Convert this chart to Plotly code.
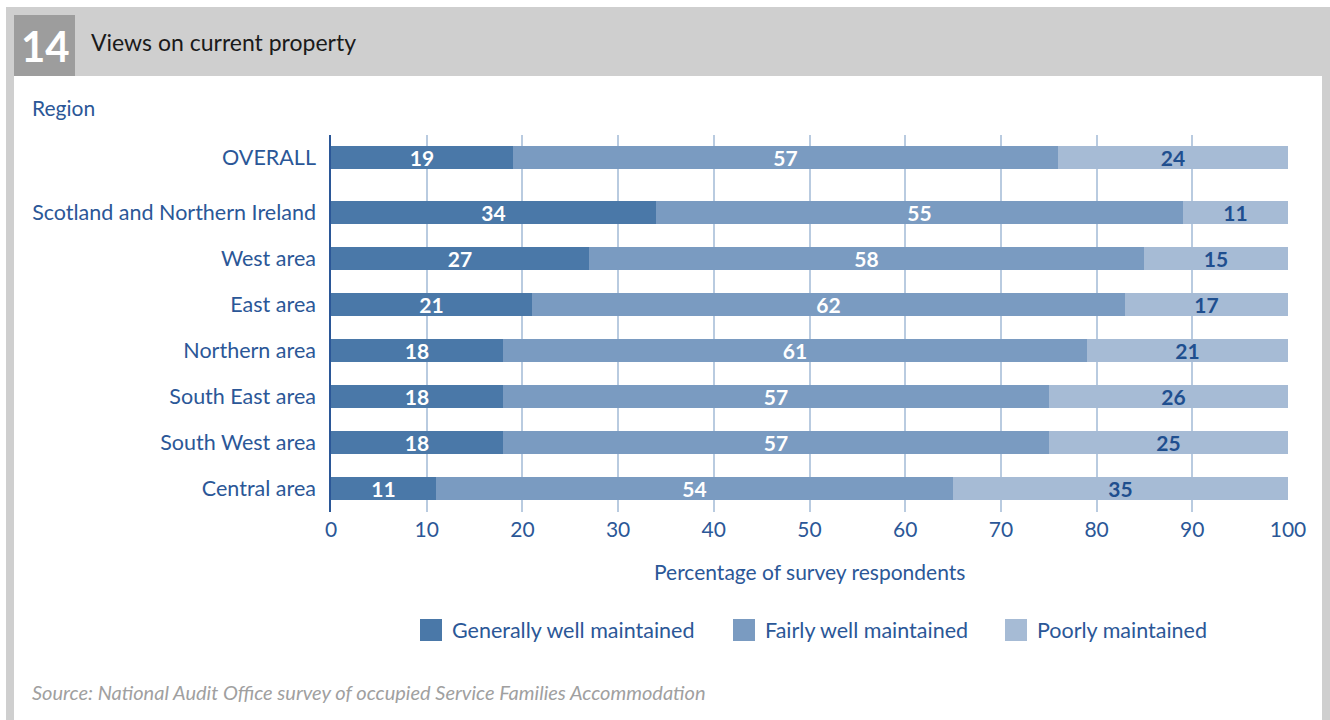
import plotly.graph_objects as go

# Survey results by region (percentages)
regions = ["OVERALL", "Scotland and Northern Ireland", "West area", "East area",
           "Northern area", "South East area", "South West area", "Central area"]
generally_well = [19, 34, 27, 21, 18, 18, 18, 11]
fairly_well = [57, 55, 58, 62, 61, 57, 57, 54]
poorly = [24, 11, 15, 17, 21, 26, 25, 35]
series_names = ["Generally well maintained", "Fairly well maintained", "Poorly maintained"]
x_ticks = [0, 10, 20, 30, 40, 50, 60, 70, 80, 90, 100]

# Row positions: OVERALL sits a little apart from the regional rows
row_pos = [7.2, 6, 5, 4, 3, 2, 1, 0]

W, H = 1330, 720
L, R, T, B = 331, 1288, 135, 512
FONT = "Lato"
BLUE_TXT = "#2b5797"
colors = ["#4a78a8", "#7a9bc1", "#a6bbd5"]
text_colors = ["white", "white", "#1f4f8f"]


def px_x(p):
    return (p - L) / (R - L)


def px_y(p):
    return (B - p) / (B - T)


fig = go.Figure()
for name, vals, col, tcol in zip(series_names, [generally_well, fairly_well, poorly], colors, text_colors):
    fig.add_trace(go.Bar(
        name=name, x=vals, y=row_pos, orientation="h", width=0.5,
        marker=dict(color=col, line=dict(width=0)),
        text=[str(v) for v in vals], texttemplate="<b>%{text}</b>",
        textposition="inside", insidetextanchor="middle", constraintext="none", textangle=0,
        textfont=dict(family=FONT, size=21, color=tcol),
        showlegend=False, hoverinfo="skip",
    ))

shapes = []
annotations = []

# Grey frame and heading band
frame = "#cfcfcf"
shapes.append(dict(type="rect", xref="paper", yref="paper", x0=px_x(6), x1=px_x(1330),
                   y0=px_y(7), y1=px_y(76), fillcolor=frame, line=dict(width=0), layer="above"))
shapes.append(dict(type="rect", xref="paper", yref="paper", x0=px_x(6), x1=px_x(14),
                   y0=px_y(76), y1=px_y(720), fillcolor=frame, line=dict(width=0), layer="above"))
shapes.append(dict(type="rect", xref="paper", yref="paper", x0=px_x(1322), x1=px_x(1330),
                   y0=px_y(76), y1=px_y(720), fillcolor=frame, line=dict(width=0), layer="above"))
shapes.append(dict(type="rect", xref="paper", yref="paper", x0=px_x(14), x1=px_x(75),
                   y0=px_y(15), y1=px_y(76), fillcolor="#9d9d9d", line=dict(width=0), layer="above"))

annotations.append(dict(text="<b>14</b>", x=px_x(45), y=px_y(46), xref="paper", yref="paper",
                        xanchor="center", yanchor="middle", showarrow=False,
                        font=dict(family=FONT, size=42, color="white")))
annotations.append(dict(text="Views on current property", x=px_x(89), y=px_y(42), xref="paper", yref="paper",
                        xanchor="left", yanchor="middle", showarrow=False,
                        font=dict(family=FONT, size=23, color="#1a1a1a")))
annotations.append(dict(text="Region", x=px_x(30), y=px_y(107), xref="paper", yref="paper",
                        xanchor="left", yanchor="middle", showarrow=False,
                        font=dict(family=FONT, size=21, color=BLUE_TXT)))
annotations.append(dict(text="Percentage of survey respondents", x=0.5, y=px_y(571), xref="paper", yref="paper",
                        xanchor="center", yanchor="middle", showarrow=False,
                        font=dict(family=FONT, size=21, color=BLUE_TXT)))
annotations.append(dict(text="<i>Source: National Audit Office survey of occupied Service Families Accommodation</i>",
                        x=px_x(30), y=px_y(692), xref="paper", yref="paper",
                        xanchor="left", yanchor="middle", showarrow=False,
                        font=dict(family=FONT, size=20, color="#a0a0a0")))

# Legend drawn as swatches with labels
legend_x = [420, 733, 1005]
for lx, name, col in zip(legend_x, series_names, colors):
    shapes.append(dict(type="rect", xref="paper", yref="paper", x0=px_x(lx), x1=px_x(lx + 22),
                       y0=px_y(641), y1=px_y(619), fillcolor=col, line=dict(width=0), layer="above"))
    annotations.append(dict(text=name, x=px_x(lx + 30), y=px_y(630), xref="paper", yref="paper",
                            xanchor="left", yanchor="middle", showarrow=False,
                            font=dict(family=FONT, size=21.5, color=BLUE_TXT)))

fig.update_layout(
    width=W, height=H,
    margin=dict(l=L, r=W - R, t=T, b=H - B, pad=0),
    barmode="stack", bargap=0,
    paper_bgcolor="white", plot_bgcolor="white",
    font=dict(family=FONT, color=BLUE_TXT),
    xaxis=dict(range=[0, 100], tickvals=x_ticks, ticktext=[str(v) for v in x_ticks],
               showgrid=True, gridcolor="#b9cbe0", gridwidth=1.5, zeroline=False,
               showline=False, ticks="", ticklabelstandoff=3,
               tickfont=dict(family=FONT, size=21, color=BLUE_TXT), fixedrange=True),
    yaxis=dict(range=[-0.52, 7.68], tickvals=row_pos, ticktext=regions,
               showgrid=False, zeroline=False, showline=True, linecolor="#2b5797", linewidth=1.5,
               ticks="", ticklabelstandoff=9,
               tickfont=dict(family=FONT, size=21.5, color=BLUE_TXT), fixedrange=True),
    shapes=shapes, annotations=annotations,
)

fig.write_html("out.html")
